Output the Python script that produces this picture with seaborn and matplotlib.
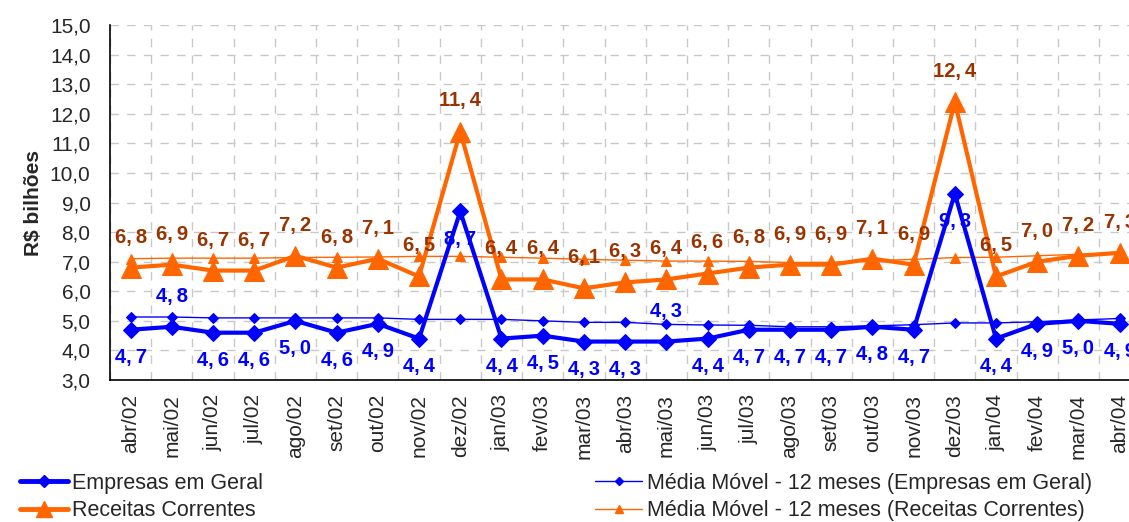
import numpy as np
import pandas as pd
import matplotlib
matplotlib.use('Agg')
import matplotlib.pyplot as plt
import seaborn as sns
from matplotlib.lines import Line2D

# Data
months = ['abr/02', 'mai/02', 'jun/02', 'jul/02', 'ago/02', 'set/02', 'out/02',
          'nov/02', 'dez/02', 'jan/03', 'fev/03', 'mar/03', 'abr/03', 'mai/03',
          'jun/03', 'jul/03', 'ago/03', 'set/03', 'out/03', 'nov/03', 'dez/03',
          'jan/04', 'fev/04', 'mar/04', 'abr/04']
empresas = [4.7, 4.8, 4.6, 4.6, 5.0, 4.6, 4.9, 4.4, 8.7, 4.4, 4.5, 4.3, 4.3,
            4.3, 4.4, 4.7, 4.7, 4.7, 4.8, 4.7, 9.3, 4.4, 4.9, 5.0, 4.9]
receitas = [6.8, 6.9, 6.7, 6.7, 7.2, 6.8, 7.1, 6.5, 11.4, 6.4, 6.4, 6.1, 6.3,
            6.4, 6.6, 6.8, 6.9, 6.9, 7.1, 6.9, 12.4, 6.5, 7.0, 7.2, 7.3]
mm_empresas = [5.13, 5.13, 5.10, 5.10, 5.10, 5.10, 5.10, 5.05, 5.05, 5.05,
               5.00, 4.95, 4.95, 4.88, 4.86, 4.85, 4.80, 4.80, 4.83, 4.87,
               4.93, 4.93, 4.97, 5.03, 5.08]
mm_receitas = [7.10, 7.12, 7.12, 7.12, 7.14, 7.15, 7.16, 7.18, 7.18, 7.15,
               7.12, 7.08, 7.05, 7.02, 7.02, 7.01, 6.97, 6.98, 7.03, 7.08,
               7.14, 7.15, 7.20, 7.25, 7.30]

# labels above the point for these indices (Empresas)
emp_above = [1, 13]

blue = '#0000FF'
orange = '#FF6600'
brown = '#993300'

sns.set_style('white')
plt.rcParams['font.family'] = ['Liberation Sans', 'DejaVu Sans']

df = pd.DataFrame({'idx': np.arange(len(months)), 'empresas': empresas,
                   'receitas': receitas, 'mm_empresas': mm_empresas,
                   'mm_receitas': mm_receitas})

fig = plt.figure(figsize=(11.29, 5.22), dpi=100)
ax = fig.add_axes([0.0974, 0.272, 0.9126, 0.680])

sns.lineplot(data=df, x='idx', y='mm_empresas', ax=ax, color=blue, lw=1,
             marker='D', markersize=5, markeredgecolor=blue, zorder=3)
sns.lineplot(data=df, x='idx', y='mm_receitas', ax=ax, color=orange, lw=1,
             marker='^', markersize=7, markeredgecolor=orange, zorder=3)
sns.lineplot(data=df, x='idx', y='empresas', ax=ax, color=blue, lw=3,
             marker='D', markersize=8, markeredgecolor=blue, zorder=4)
sns.lineplot(data=df, x='idx', y='receitas', ax=ax, color=orange, lw=3,
             marker='^', markersize=15, markeredgecolor=orange, zorder=4)


def fmt(v):
    return f'{v:.1f}'.replace('.', ',\u2009')


# value labels
for i, v in enumerate(receitas):
    ax.annotate(fmt(v), (i, v), xytext=(0, 22),
                textcoords='offset points', ha='center', va='center',
                fontsize=14.5, fontweight='bold', color=brown, zorder=5)
for i, v in enumerate(empresas):
    dy = 22 if i in emp_above else -20
    ax.annotate(fmt(v), (i, v), xytext=(0, dy),
                textcoords='offset points', ha='center', va='center',
                fontsize=14.5, fontweight='bold', color=blue, zorder=5)

ax.set_xlim(-0.5, len(months) - 0.5)
ax.set_ylim(3, 15)
ax.set_yticks(np.arange(3, 15.1, 1))
ax.set_yticklabels([f'{t:.1f}'.replace('.', ',') for t in np.arange(3, 15.1, 1)],
                   fontsize=15)
ax.set_xticks(np.arange(len(months)))
ax.set_xticklabels(months, rotation=90, fontsize=15)
ax.set_xticks(np.arange(len(months) + 1) - 0.5, minor=True)
ax.tick_params(axis='x', which='major', length=0, pad=10)
ax.tick_params(axis='x', which='minor', length=6, width=1, color='black',
               direction='out')
ax.tick_params(axis='y', length=6, width=1, color='black', direction='out',
               pad=8)
ax.set_xlabel('')
ax.set_ylabel('R$ bilhões', fontsize=15, fontweight='bold', labelpad=5)

ax.grid(False)
ax.yaxis.grid(True, color='#c8c8c8', linestyle=(0, (6, 6)), lw=1)
ax.xaxis.grid(True, which='minor', color='#c8c8c8', linestyle=(0, (6, 6)), lw=1)
ax.set_axisbelow(True)

for s in ['top', 'right']:
    ax.spines[s].set_visible(False)
ax.spines['left'].set_color('black')
ax.spines['bottom'].set_color('black')
ax.spines['left'].set_linewidth(1.2)
ax.spines['bottom'].set_linewidth(1.2)

leg_font = {'family': ['Liberation Sans', 'DejaVu Sans'], 'size': 15.5}
h1 = [Line2D([], [], color=blue, lw=3.5, marker='D', markersize=6),
      Line2D([], [], color=orange, lw=3.5, marker='^', markersize=12)]
h2 = [Line2D([], [], color=blue, lw=1, marker='D', markersize=4),
      Line2D([], [], color=orange, lw=1, marker='^', markersize=6)]
fig.legend(h1, ['Empresas em Geral', 'Receitas Correntes'],
           loc='upper left', bbox_to_anchor=(0.018, 0.094), frameon=False,
           prop=leg_font, handlelength=2.2, handletextpad=0.2,
           labelspacing=0.3, borderaxespad=0, borderpad=0)
fig.legend(h2, ['Média Móvel - 12 meses (Empresas em Geral)',
                'Média Móvel - 12 meses (Receitas Correntes)'],
           loc='upper left', bbox_to_anchor=(0.527, 0.094), frameon=False,
           prop=leg_font, handlelength=2.2, handletextpad=0.2,
           labelspacing=0.3, borderaxespad=0, borderpad=0)

fig.savefig('out.png', dpi=100)
